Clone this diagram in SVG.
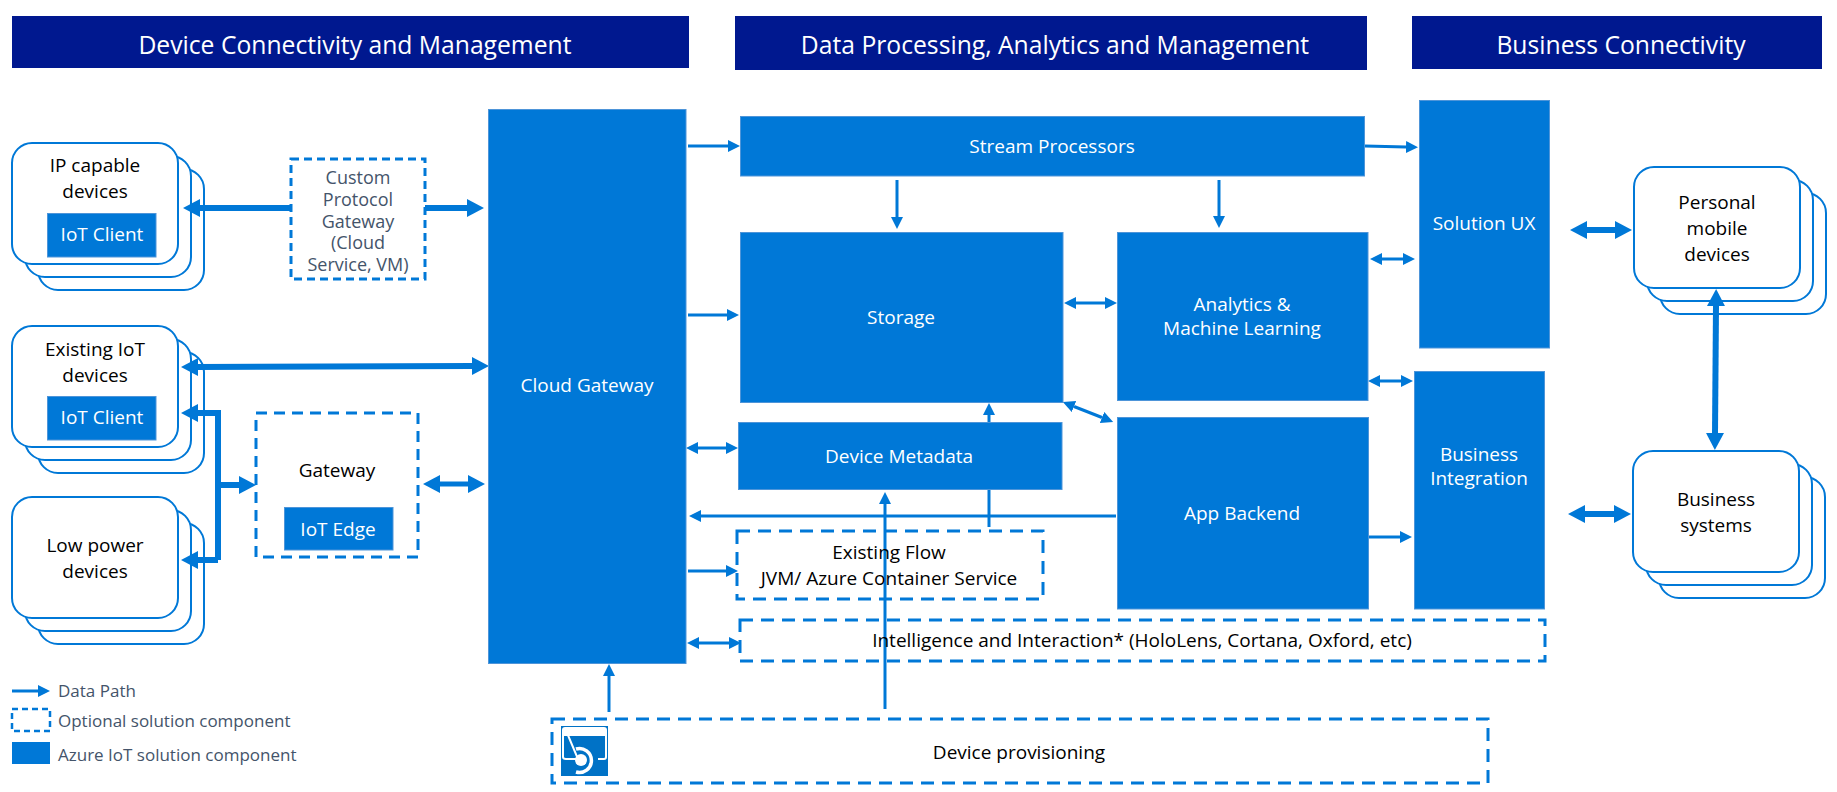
<svg xmlns="http://www.w3.org/2000/svg" width="1837" height="792" viewBox="0 0 1837 792">
<style>
text{font-family:"Open Sans","Noto Sans","Liberation Sans",sans-serif;text-anchor:middle;font-size:19px;fill:#000}
.w{fill:#fff}
.h{fill:#fff;font-size:24.7px}
.g{fill:#44546a;font-size:17px}
.g2{fill:#44546a;font-size:18px}
.l{text-anchor:start}
.hb{fill:#00188f}
.b{fill:#0078d7;stroke:#4e95d9;stroke-width:1}
.c{fill:#fff;stroke:#0078d7;stroke-width:2}
.d{fill:none;stroke:#0078d7;stroke-width:3;stroke-dasharray:13 8}
.t{stroke:#0078d7;stroke-width:3;fill:none;marker-end:url(#s)}
.tt{stroke:#0078d7;stroke-width:3;fill:none;marker-end:url(#s);marker-start:url(#s)}
.k{stroke:#0078d7;stroke-width:6;fill:none;marker-end:url(#m)}
.kk{stroke:#0078d7;stroke-width:6;fill:none;marker-end:url(#m);marker-start:url(#m)}
</style>
<defs>
<marker id="s" markerUnits="userSpaceOnUse" markerWidth="13" markerHeight="14" refX="0" refY="6" orient="auto-start-reverse"><path d="M0 0L12 6L0 12Z" fill="#0078d7"/></marker>
<marker id="m" markerUnits="userSpaceOnUse" markerWidth="18" markerHeight="20" refX="0" refY="9" orient="auto-start-reverse"><path d="M0 0L17 9L0 18Z" fill="#0078d7"/></marker>
<g id="stack"><rect class="c" x="26" y="26" width="166" height="121" rx="20"/><rect class="c" x="13" y="13" width="166" height="121" rx="20"/><rect class="c" x="0" y="0" width="166" height="121" rx="20"/></g>
</defs>
<g id="header-device"><rect class="hb" x="12" y="16" width="677" height="52"/><text class="h" x="355" y="54">Device Connectivity and Management</text></g>
<g id="header-data"><rect class="hb" x="735" y="16" width="632" height="54"/><text class="h" x="1055" y="54">Data Processing, Analytics and Management</text></g>
<g id="header-business"><rect class="hb" x="1412" y="16" width="410" height="53"/><text class="h" x="1621" y="54">Business Connectivity</text></g>
<g id="ip-devices"><use href="#stack" x="12" y="143"/><text x="95" y="172">IP capable</text><text x="95" y="198">devices</text></g>
<g id="existing-devices"><use href="#stack" x="12" y="326"/><text x="95" y="356">Existing IoT</text><text x="95" y="382">devices</text></g>
<g id="low-power"><use href="#stack" x="12" y="497"/><text x="95" y="552">Low power</text><text x="95" y="578">devices</text></g>
<g id="personal-devices"><use href="#stack" x="1634" y="167"/><text x="1717" y="209">Personal</text><text x="1717" y="235">mobile</text><text x="1717" y="261">devices</text></g>
<g id="business-systems"><use href="#stack" x="1633" y="451"/><text x="1716" y="506">Business</text><text x="1716" y="532">systems</text></g>
<g id="connectors">
<line class="k" x1="291" y1="208" x2="200" y2="208"/>
<line class="k" x1="425" y1="208" x2="467" y2="208"/>
<line class="kk" x1="198" y1="367" x2="472" y2="366"/>
<path class="k" d="M218 560V413H198"/>
<path class="k" d="M218 560H198"/>
<line class="k" x1="218" y1="485" x2="239" y2="485"/>
<line class="kk" style="stroke-width:5" x1="440" y1="484" x2="468" y2="484"/>
<line class="kk" x1="1587" y1="230" x2="1615" y2="230"/>
<line class="kk" x1="1585" y1="514" x2="1614" y2="514"/>
<line class="kk" x1="1716" y1="306" x2="1715" y2="433"/>
<line class="t" x1="688" y1="146" x2="728" y2="146"/>
<line class="t" x1="688" y1="315" x2="727" y2="315"/>
<line class="tt" x1="698" y1="448" x2="726" y2="448"/>
<line class="t" x1="1116" y1="516" x2="701" y2="516"/>
<line class="t" x1="989" y1="527" x2="989" y2="415"/>
<line class="t" x1="885" y1="709" x2="885" y2="504"/>
<line class="t" x1="688" y1="571" x2="726" y2="571"/>
<line class="tt" x1="699" y1="643" x2="729" y2="643"/>
<line class="t" x1="897" y1="180" x2="897" y2="217"/>
<line class="t" x1="1219" y1="180" x2="1219" y2="216"/>
<line class="t" x1="1365" y1="146" x2="1406" y2="147"/>
<line class="tt" x1="1076" y1="303" x2="1105" y2="303"/>
<line class="tt" x1="1382" y1="259" x2="1403" y2="259"/>
<line class="tt" x1="1380" y1="381" x2="1401" y2="381"/>
<line class="tt" x1="1074" y1="406.5" x2="1102" y2="417.5"/>
<line class="t" x1="1369" y1="537" x2="1400" y2="537"/>
<line class="t" x1="609" y1="712" x2="609" y2="676"/>
</g>
<g id="cloud-gateway"><rect class="b" x="488.5" y="109.5" width="197.5" height="554"/><text class="w" x="587" y="392">Cloud Gateway</text></g>
<g id="stream-processors"><rect class="b" x="740.5" y="116.5" width="624" height="59.5"/><text class="w" x="1052" y="153">Stream Processors</text></g>
<g id="storage"><rect class="b" x="740.5" y="232.5" width="322.5" height="170"/><text class="w" x="901" y="324">Storage</text></g>
<g id="analytics"><rect class="b" x="1117.5" y="232.5" width="250.5" height="168"/><text class="w" x="1242" y="311">Analytics &amp;</text><text class="w" x="1242" y="335">Machine Learning</text></g>
<g id="device-metadata"><rect class="b" x="738.5" y="422.5" width="323.5" height="67"/><text class="w" x="899" y="463">Device Metadata</text></g>
<g id="app-backend"><rect class="b" x="1117.5" y="417.5" width="251" height="191.5"/><text class="w" x="1242" y="520">App Backend</text></g>
<g id="solution-ux"><rect class="b" x="1419.5" y="100.5" width="130" height="247.5"/><text class="w" x="1484" y="230">Solution UX</text></g>
<g id="business-integration"><rect class="b" x="1414.5" y="371.5" width="130" height="237.5"/><text class="w" x="1479" y="461">Business</text><text class="w" x="1479" y="485">Integration</text></g>
<g id="iot-client-1"><rect class="b" x="47.5" y="213.5" width="108.5" height="43.5"/><text class="w" x="102" y="241">IoT Client</text></g>
<g id="iot-client-2"><rect class="b" x="47.5" y="396.5" width="108.5" height="43.5"/><text class="w" x="102" y="424">IoT Client</text></g>
<g id="custom-gateway"><rect class="d" x="291" y="159" width="134" height="120" style="stroke-dasharray:8 5"/><text class="g2" x="358" y="184">Custom</text><text class="g2" x="358" y="206">Protocol</text><text class="g2" x="358" y="228">Gateway</text><text class="g2" x="358" y="249">(Cloud</text><text class="g2" x="358" y="271">Service, VM)</text></g>
<g id="gateway"><rect class="d" x="256" y="413" width="162" height="144" style="stroke-dasharray:11 7"/><text x="337" y="477">Gateway</text><rect class="b" x="284.5" y="507.5" width="108.5" height="42.5"/><text class="w" x="338" y="536">IoT Edge</text></g>
<g id="existing-flow"><rect class="d" x="737" y="531" width="306" height="68"/><text x="889" y="559">Existing Flow</text><text x="889" y="585">JVM/ Azure Container Service</text></g>
<g id="intelligence"><rect class="d" x="740" y="620" width="805" height="41"/><text x="1142" y="647">Intelligence and Interaction* (HoloLens, Cortana, Oxford, etc)</text></g>
<g id="device-provisioning"><rect class="d" x="552" y="719" width="936" height="64"/><text x="1019" y="759">Device provisioning</text>
<rect x="561" y="726" width="47" height="50" fill="#0072c6"/><path d="M565 728H604Q606 728 606 730V757Q606 759 604 759H598M578 759H566Q563 759 563 757V730Q563 728 565 728Z" fill="none" stroke="#fff" stroke-width="2"/><rect x="564" y="729" width="41" height="7" fill="#fff"/><circle cx="581" cy="760" r="6" fill="#fff"/><path d="M576 749A12 12 0 1 1 576 772" fill="none" stroke="#fff" stroke-width="3.5"/></g>
<g id="legend">
<line class="t" x1="12" y1="691" x2="38" y2="691"/>
<text class="g l" x="58" y="697">Data Path</text>
<rect class="d" x="12" y="709" width="38" height="22" style="stroke-dasharray:6 4;stroke-width:2.5"/>
<text class="g l" x="58" y="727">Optional solution component</text>
<rect x="12" y="742" width="38" height="22" fill="#0078d7"/>
<text class="g l" x="58" y="761">Azure IoT solution component</text>
</g>
</svg>
